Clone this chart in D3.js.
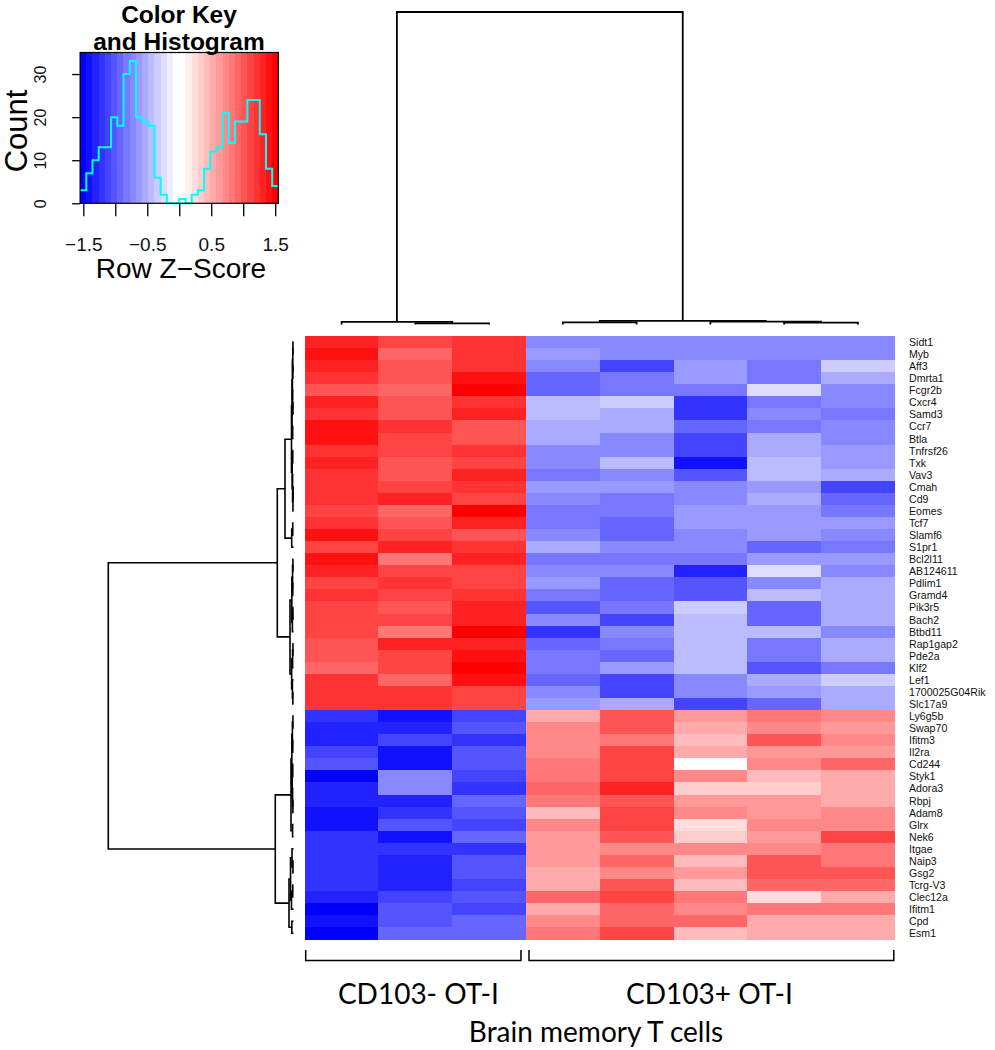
<!DOCTYPE html>
<html><head><meta charset="utf-8">
<script src="https://cdn.jsdelivr.net/npm/d3@7"></script>
<style>body{margin:0;background:#fff} svg{display:block}</style>
</head><body>
<script>
// ---------------- data ----------------
const genes = ["Sidt1","Myb","Aff3","Dmrta1","Fcgr2b","Cxcr4","Samd3","Ccr7","Btla","Tnfrsf26","Txk","Vav3","Cmah","Cd9","Eomes","Tcf7","Slamf6","S1pr1","Bcl2l11","AB124611","Pdlim1","Gramd4","Pik3r5","Bach2","Btbd11","Rap1gap2","Pde2a","Klf2","Lef1","1700025G04Rik","Slc17a9","Ly6g5b","Swap70","Ifitm3","Il2ra","Cd244","Styk1","Adora3","Rbpj","Adam8","Glrx","Nek6","Itgae","Naip3","Gsg2","Tcrg-V3","Clec12a","Ifitm1","Cpd","Esm1"];

const samples = ["CD103- #1","CD103- #2","CD103- #3","CD103+ #1","CD103+ #2","CD103+ #3","CD103+ #4","CD103+ #5"];
const groupLabels = ["CD103- OT-I","CD103+ OT-I"];
const sampleGroup = [0,0,0,1,1,1,1,1];
const xTitle = "Brain memory T cells";

// row z-scores (rows = genes, columns = samples)
const zScores = [
[1.31,1.11,1.21,-0.73,-0.73,-0.73,-0.73,-0.73],
[1.40,0.92,1.21,-0.63,-0.73,-0.73,-0.73,-0.73],
[1.31,1.02,1.21,-0.73,-1.11,-0.63,-0.82,-0.34],
[1.21,1.02,1.40,-0.92,-0.82,-0.63,-0.82,-0.53],
[1.02,0.92,1.50,-0.92,-0.82,-0.82,-0.24,-0.73],
[1.31,1.02,1.21,-0.44,-0.34,-1.21,-0.82,-0.73],
[1.21,1.02,1.31,-0.44,-0.53,-1.21,-0.73,-0.82],
[1.40,1.21,1.02,-0.53,-0.53,-0.92,-0.82,-0.73],
[1.40,1.11,1.02,-0.53,-0.73,-1.11,-0.53,-0.73],
[1.21,1.11,1.21,-0.73,-0.73,-1.11,-0.53,-0.63],
[1.31,1.02,1.11,-0.73,-0.44,-1.40,-0.44,-0.63],
[1.21,1.02,1.31,-0.82,-0.73,-1.02,-0.44,-0.53],
[1.21,1.11,1.21,-0.63,-0.63,-0.73,-0.63,-1.11],
[1.21,1.31,1.11,-0.73,-0.82,-0.73,-0.53,-0.92],
[1.11,0.92,1.50,-0.82,-0.82,-0.63,-0.63,-0.82],
[1.21,1.02,1.31,-0.82,-0.92,-0.63,-0.63,-0.63],
[1.40,1.11,1.02,-0.73,-0.92,-0.73,-0.63,-0.73],
[1.11,1.31,1.21,-0.53,-0.73,-0.73,-0.92,-0.82],
[1.40,0.82,1.31,-0.82,-0.82,-0.82,-0.63,-0.63],
[1.31,1.11,1.11,-0.73,-0.73,-1.31,-0.24,-0.73],
[1.11,1.21,1.11,-0.63,-0.92,-1.02,-0.73,-0.53],
[1.21,1.11,1.21,-0.82,-0.92,-1.02,-0.44,-0.53],
[1.11,1.02,1.31,-1.02,-0.82,-0.34,-0.92,-0.53],
[1.11,1.11,1.31,-0.73,-1.11,-0.44,-0.92,-0.53],
[1.11,0.82,1.50,-1.21,-0.73,-0.44,-0.44,-0.73],
[1.02,1.31,1.31,-0.92,-0.82,-0.44,-0.82,-0.53],
[1.02,1.11,1.40,-0.82,-0.92,-0.44,-0.82,-0.53],
[0.92,1.11,1.50,-0.82,-0.63,-0.44,-1.02,-0.82],
[1.21,0.92,1.40,-0.92,-1.11,-0.73,-0.53,-0.34],
[1.21,1.21,1.11,-0.73,-1.11,-0.73,-0.63,-0.53],
[1.21,1.21,1.11,-0.63,-0.53,-1.11,-0.92,-0.53],
[-1.21,-1.40,-1.11,0.53,1.02,0.63,0.82,0.73],
[-1.31,-1.31,-1.02,0.73,1.02,0.53,0.73,0.63],
[-1.31,-1.11,-1.21,0.73,0.82,0.44,1.02,0.73],
[-1.11,-1.40,-1.02,0.73,1.11,0.53,0.63,0.63],
[-1.02,-1.40,-1.02,0.82,1.11,0.05,0.73,0.92],
[-1.50,-0.73,-1.11,0.82,1.11,0.73,0.44,0.53],
[-1.31,-0.73,-1.21,0.92,1.31,0.34,0.34,0.53],
[-1.31,-1.31,-0.92,0.82,1.02,0.63,0.63,0.53],
[-1.40,-1.21,-1.02,0.44,1.11,0.73,0.63,0.73],
[-1.40,-1.02,-1.11,0.73,1.11,0.24,0.73,0.73],
[-1.21,-1.40,-0.92,0.63,1.02,0.34,0.63,1.11],
[-1.21,-1.21,-1.21,0.63,0.73,0.73,0.73,0.82],
[-1.21,-1.31,-1.02,0.63,0.92,0.44,1.02,0.82],
[-1.21,-1.31,-1.02,0.53,0.73,0.63,1.02,1.02],
[-1.21,-1.31,-1.11,0.53,1.02,0.44,0.92,0.92],
[-1.31,-1.11,-1.02,0.92,1.11,0.82,0.24,0.53],
[-1.50,-1.02,-1.11,0.53,0.92,0.73,0.82,0.82],
[-1.40,-1.02,-0.92,0.73,0.92,0.92,0.53,0.53],
[-1.50,-0.92,-0.92,0.82,1.11,0.44,0.53,0.53]
];

// dendrograms: internal node = [mergeHeight, left, right], leaf = index
const rowTree = [100,
  [8.75,
    [4.59,
      [1.08,
        [0.8, [0.6, [0.4, [0.3, 0, 1], [0.35, 2, 3]], [0.5, 4, [0.3, 5, 6]]], [0.45, 7, 8]],
        [0.7, [0.4, 9, 10], [0.5, 11, [0.3, [0.2, 12, 13], 14]]]],
      [0.97, [0.4, 15, 16], 17]],
    [1.89,
      [0.9, [0.5, [0.3, 18, 19], [0.4, 20, 21]], [0.6, [0.3, 22, 23], 24]],
      [1.0, [0.5, [0.3, 25, 26], 27], [0.6, 28, [0.35, 29, 30]]]]],
  [9.83,
    [1.35,
      [0.9, [0.6, [0.3, 31, 32], [0.4, 33, 34]], [0.7, [0.4, 35, 36], [0.5, 37, [0.3, 38, 39]]]],
      [0.5, 40, 41]],
    [2.43,
      [1.6, [0.8, 42, [0.3, 43, 44]], [1.1, [0.4, 45, 46], 47]],
      [0.9, 48, 49]]]
];
const colTree = [100, [0.86, 0, [0.38, 1, 2]], [1.18, [0.7, 3, 4], [0.93, 5, [0.6, 6, 7]]]];

// colour key
const keyBreaks = d3.range(33).map(k => -1.55 + k * 3.1 / 32);
const histCounts = [3,7,10,13,13,20,18,30,33,20,19,18,6,2,0,0,1,0,2,3,8,12,13,21,14,19,19,24,24,16,8,4];
const keyTicks = [-1.5,-1,-0.5,0,0.5,1,1.5];
const keyTickLabels = ["\u22121.5","","\u22120.5","","0.5","","1.5"];
const countTicks = [0,10,20,30];

// ---------------- drawing ----------------
const svg = d3.select("body").append("svg").attr("width", 995).attr("height", 1050);

const palette = d3.range(32).map(i => i < 16
  ? d3.rgb(Math.round(255 * i / 15), Math.round(255 * i / 15), 255).formatHex()
  : d3.rgb(255, Math.round(255 * (1 - (i - 16) / 15)), Math.round(255 * (1 - (i - 16) / 15))).formatHex());
const color = d3.scaleThreshold().domain(keyBreaks.slice(1, -1)).range(palette);

const x = d3.scaleBand().domain(d3.range(samples.length)).range([304.7, 894.8]);
const y = d3.scaleBand().domain(d3.range(genes.length)).range([336, 939.3]);

// heatmap cells
const gCells = svg.append("g").attr("shape-rendering", "crispEdges");
gCells.selectAll("g").data(zScores).join("g")
  .each(function(row, r) {
    d3.select(this).selectAll("rect").data(row).join("rect")
      .attr("x", (d, c) => x(c)).attr("y", y(r))
      .attr("width", x.bandwidth() + 0.4).attr("height", y.bandwidth() + 0.4)
      .attr("fill", d => color(d));
  });

// gene labels
svg.append("g").selectAll("text").data(genes).join("text")
  .attr("x", 909).attr("y", (d, i) => y(i) + y.bandwidth() / 2)
  .attr("dominant-baseline", "central")
  .attr("font-family", "Liberation Sans, Arial, sans-serif").attr("font-size", 10.6)
  .attr("fill", "#111").text(d => d);

// dendrogram layout
function layout(tree, pos) {
  const root = d3.hierarchy(tree, d => Array.isArray(d) ? d.slice(1) : null);
  root.eachAfter(n => {
    if (n.children) { n.p = d3.mean(n.children, c => c.p); n.h = n.data[0]; }
    else { n.p = pos(n.data); n.h = 0; }
  });
  return root;
}
const rowRoot = layout(rowTree, i => y(i) + y.bandwidth() / 2);
const rowH = d3.scaleLinear().domain([0, 100]).range([293.5, 108.3]);
svg.append("g").selectAll("path").data(rowRoot.descendants().filter(n => n.children)).join("path")
  .attr("d", n => { const [a, b] = n.children;
    return `M${rowH(a.h)},${a.p}H${rowH(n.h)}V${b.p}H${rowH(b.h)}`; })
  .attr("fill", "none").attr("stroke", "#000").attr("stroke-width", 1.6);

const colRoot = layout(colTree, i => x(i) + x.bandwidth() / 2);
const colH = d3.scaleLinear().domain([0, 100]).range([324.5, 12]);
svg.append("g").selectAll("path").data(colRoot.descendants().filter(n => n.children)).join("path")
  .attr("d", n => { const [a, b] = n.children;
    return `M${a.p},${colH(a.h)}V${colH(n.h)}H${b.p}V${colH(b.h)}`; })
  .attr("fill", "none").attr("stroke", "#000").attr("stroke-width", 1.8);

// group brackets
const groups = groupLabels.map((g, gi) => {
  const idx = d3.range(samples.length).filter(i => sampleGroup[i] === gi);
  return { label: g, x0: x(d3.min(idx)), x1: x(d3.max(idx)) + x.bandwidth() };
});
const gB = svg.append("g");
gB.selectAll("path").data(groups).join("path")
  .attr("d", (d, i) => `M${d.x0 + (i ? 3 : 1)},950V960.5H${d.x1 - (i ? 1 : 5)}V950`)
  .attr("fill", "none").attr("stroke", "#000").attr("stroke-width", 1.5);
gB.selectAll("text").data(groups).join("text")
  .attr("x", (d, i) => (d.x0 + d.x1) / 2 + (i ? -1 : 3)).attr("y", 1004)
  .attr("text-anchor", "middle").attr("font-family", "Lato, sans-serif").attr("font-size", 28)
  .text(d => d.label);
svg.append("text").attr("x", 596).attr("y", 1042).attr("text-anchor", "middle")
  .attr("font-family", "Lato, sans-serif").attr("font-size", 28).text(xTitle);

// colour key
const kx = d3.scaleLinear().domain([-1.55, 1.55]).range([80.1, 278.4]);
const ky = d3.scaleLinear().domain([0, 35]).range([203.3, 52.5]);
const gK = svg.append("g");
gK.append("g").attr("shape-rendering", "crispEdges").selectAll("rect").data(palette).join("rect")
  .attr("x", (d, i) => kx(keyBreaks[i])).attr("y", ky(35))
  .attr("width", (d, i) => kx(keyBreaks[i + 1]) - kx(keyBreaks[i]) + 0.4)
  .attr("height", ky(0) - ky(35)).attr("fill", d => d);
const histPts = histCounts.map((c, i) => [keyBreaks[i], c]).concat([[keyBreaks[32], histCounts[31]]]);
gK.append("path").datum(histPts)
  .attr("d", d3.line().x(d => kx(d[0])).y(d => ky(d[1])).curve(d3.curveStepAfter))
  .attr("fill", "none").attr("stroke", "#00FFFF").attr("stroke-width", 2);
gK.append("rect").attr("x", kx(-1.55)).attr("y", ky(35)).attr("width", kx(1.55) - kx(-1.55))
  .attr("height", ky(0) - ky(35)).attr("fill", "none").attr("stroke", "#000").attr("stroke-width", 1.2);

const ax = gK.append("g").attr("transform", `translate(0,${ky(0)})`)
  .call(d3.axisBottom(kx).tickValues(keyTicks).tickSize(13).tickSizeOuter(0)
    .tickFormat((d, i) => keyTickLabels[i]));
ax.select(".domain").remove();
ax.selectAll("line").attr("stroke", "#000").attr("stroke-width", 1.3);
ax.selectAll("text").attr("dy", null).attr("y", 47.4)
  .attr("font-family", "Liberation Sans, Arial, sans-serif").attr("font-size", 19).attr("fill", "#111");

const ay = gK.append("g").attr("transform", `translate(${kx(-1.55)},0)`)
  .call(d3.axisLeft(ky).tickValues(countTicks).tickSize(8).tickSizeOuter(0));
ay.select(".domain").remove();
ay.selectAll("line").attr("stroke", "#000").attr("stroke-width", 1.3);
ay.selectAll("text").attr("x", null).attr("dy", null)
  .attr("transform", "translate(-34,0) rotate(-90)").attr("text-anchor", "middle")
  .attr("font-family", "Liberation Sans, Arial, sans-serif").attr("font-size", 16).attr("fill", "#111");

gK.append("text").attr("transform", "translate(27,131) rotate(-90)").attr("text-anchor", "middle")
  .attr("font-family", "Liberation Sans, Arial, sans-serif").attr("font-size", 31).text("Count");
gK.append("text").attr("x", 181).attr("y", 278).attr("text-anchor", "middle")
  .attr("font-family", "Liberation Sans, Arial, sans-serif").attr("font-size", 28).text("Row Z\u2212Score");
gK.append("text").attr("x", 179).attr("y", 22.5).attr("text-anchor", "middle")
  .attr("font-family", "Liberation Sans, Arial, sans-serif").attr("font-weight", "bold").attr("font-size", 24.5).text("Color Key");
gK.append("text").attr("x", 179).attr("y", 50).attr("text-anchor", "middle")
  .attr("font-family", "Liberation Sans, Arial, sans-serif").attr("font-weight", "bold").attr("font-size", 24.5).text("and Histogram");
</script>
</body></html>
